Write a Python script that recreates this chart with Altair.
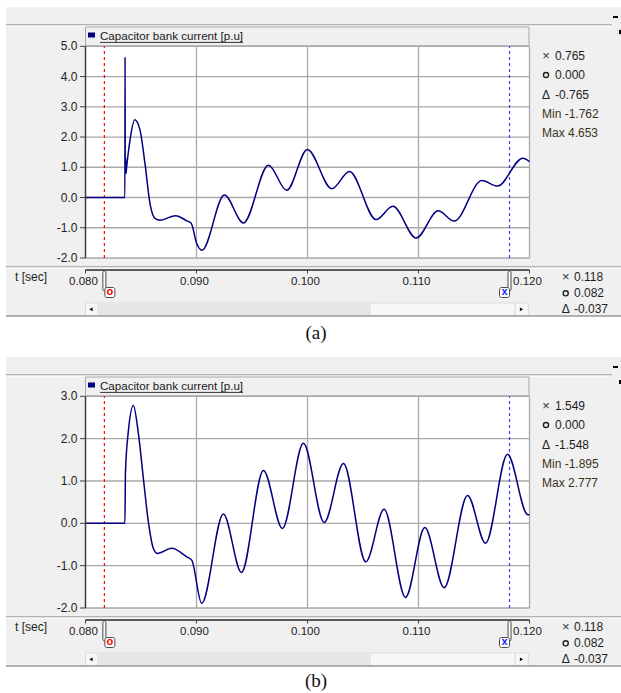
import altair as alt
import pandas as pd

# ---------------- values ----------------
series_name = "Capacitor bank current [p.u]"
x_title = "t [sec]"
panel_tags = ["(a)", "(b)"]

t_ticks = [0.080, 0.090, 0.100, 0.110, 0.120]
y_ticks_a = [-2.0, -1.0, 0.0, 1.0, 2.0, 3.0, 4.0, 5.0]
y_ticks_b = [-2.0, -1.0, 0.0, 1.0, 2.0, 3.0]

# cursor positions (red "o" and blue "x")
cursor_o = 0.0817
cursor_x = 0.1182

# panel (a) waveform
t_a = [0.08000, 0.08355, 0.083565, 0.08358, 0.08361, 0.08365, 0.08370, 0.08401, 0.08443,
       0.08491, 0.08536, 0.08581, 0.08626, 0.08672, 0.08813, 0.08912, 0.08951, 0.09002, 0.09050,
       0.09251, 0.09423, 0.09648, 0.09813, 0.09999, 0.10219, 0.10378, 0.10618, 0.10769,
       0.10979, 0.11177, 0.11321, 0.11571, 0.11712, 0.11940, 0.12000]
i_a = [0.0, 0.0, 4.65, 0.85, 1.33, 0.80, 0.98, 1.90, 2.57,
       2.23, 1.12, -0.20, -0.69, -0.75, -0.60, -0.77, -0.84, -1.52, -1.74,
       0.08, -0.84, 1.07, 0.24, 1.59, 0.29, 0.86, -0.73, -0.29,
       -1.34, -0.44, -0.78, 0.56, 0.38, 1.30, 1.19]

# panel (b) waveform
t_b = [0.08000, 0.08355, 0.08360, 0.08386, 0.08431, 0.08476, 0.08521, 0.08566, 0.08611,
       0.08647, 0.08777, 0.08912, 0.08957, 0.09047, 0.09242, 0.09405, 0.09603, 0.09774,
       0.09963, 0.10150, 0.10324, 0.10525, 0.10690, 0.10883, 0.11057, 0.11231, 0.11442,
       0.11604, 0.11802, 0.11980, 0.12000]
i_b = [0.0, 0.0, 1.20, 2.17, 2.78, 2.13, 1.07, 0.04, -0.59,
       -0.71, -0.59, -0.79, -0.87, -1.89, 0.22, -1.16, 1.25, -0.12,
       1.89, 0.02, 1.41, -0.91, 0.33, -1.75, -0.10, -1.52, 0.66,
       -0.47, 1.63, 0.21, 0.20]

info_a = ["0.765", "0.000", "-0.765", "Min -1.762", "Max 4.653"]
info_b = ["1.549", "0.000", "-1.548", "Min -1.895", "Max 2.777"]
time_info = ["0.118", "0.082", "-0.037"]

# ---------------- layout constants ----------------
W, H = 621, 693
X_RANGE = [85.5, 529.5]
Y_TOP, Y_BOT = 46.3, 258.0
FONT = "Liberation Sans"
BG = "#f0f0f0"
DUMMY = pd.DataFrame({"d": [0]})


def vrect(x, x2, y, y2, **kw):
    return alt.Chart(DUMMY).mark_rect(**kw).encode(
        x=alt.value(x), x2=alt.value(x2), y=alt.value(y), y2=alt.value(y2))


def hrule(x, x2, y, color, width=1.0):
    return alt.Chart(DUMMY).mark_rule(color=color, strokeWidth=width).encode(
        x=alt.value(x), x2=alt.value(x2), y=alt.value(y))


def label(x, y, s, size=12, color="#1e1e1e", align="left", font=FONT,
          weight="normal", baseline="middle"):
    return alt.Chart(DUMMY).mark_text(
        text=s, fontSize=size, color=color, align=align, font=font,
        fontWeight=weight, baseline=baseline).encode(x=alt.value(x), y=alt.value(y))


def glyph(x, y, shape, size, color, filled=False, sw=1.3):
    return alt.Chart(DUMMY).mark_point(
        shape=shape, size=size, color=color, filled=filled, strokeWidth=sw,
        opacity=1).encode(x=alt.value(x), y=alt.value(y))


def panel(off, t, cur, yticks, info, tag, tag_y):
    xs = alt.Scale(domain=[t_ticks[0], t_ticks[-1]], range=X_RANGE, nice=False, zero=False)
    ys = alt.Scale(domain=[yticks[0], yticks[-1]], range=[Y_BOT + off, Y_TOP + off],
                   nice=False, zero=False)

    wave = pd.DataFrame({"t": t, "i": cur})
    box = pd.DataFrame({"t0": [t_ticks[0]], "t1": [t_ticks[-1]],
                        "y0": [yticks[0]], "y1": [yticks[-1]]})
    xt = pd.DataFrame({"t": t_ticks, "lab": [f"{v:.3f}" for v in t_ticks],
                       "y0": yticks[0], "y1": yticks[-1]})
    yt = pd.DataFrame({"y": yticks, "lab": [f"{v:.1f}" for v in yticks],
                       "t0": t_ticks[0], "t1": t_ticks[-1]})
    cur_o = pd.DataFrame({"t": [cursor_o], "y0": [yticks[0]], "y1": [yticks[-1]]})
    cur_x = pd.DataFrame({"t": [cursor_x], "y0": [yticks[0]], "y1": [yticks[-1]]})

    X = lambda f: alt.X(f, type="quantitative", scale=xs, axis=None)
    Y = lambda f: alt.Y(f, type="quantitative", scale=ys, axis=None)

    layers = [
        # window background and chrome
        vrect(6, 621, 7 + off, 316 + off, fill=BG),
        hrule(6, 612, 24.8 + off, "#a0a0a0", 1.3),
        hrule(6, 612, 26.0 + off, "#ffffff", 1),
        vrect(85.5, 529, 27 + off, 45.8 + off, fill=BG, stroke="#a8a8a8", strokeWidth=1),
        vrect(88, 95, 32.5 + off, 37.5 + off, fill="#000080"),
        label(100, 40.3 + off, series_name, size=11.6, color="#1a1a1a", baseline="alphabetic"),
        hrule(100, 243, 42.4 + off, "#333333", 1),
        hrule(613, 618, 17 + off, "#000000", 2),
        vrect(619, 621, 30 + off, 34 + off, fill="#000000"),
        # plot area
        alt.Chart(box).mark_rect(fill="white").encode(
            x=X("t0"), x2="t1", y=Y("y0"), y2="y1"),
        alt.Chart(xt[1:]).mark_rule(color="#a9a9a9", strokeWidth=1.3).encode(
            x=X("t"), y=Y("y0"), y2="y1"),
        alt.Chart(yt).mark_rule(color="#a9a9a9", strokeWidth=1.3).encode(
            y=Y("y"), x=X("t0"), x2="t1"),
        alt.Chart(cur_o).mark_rule(color="#ff0000", strokeWidth=1.2, strokeDash=[3, 3]).encode(
            x=X("t"), y=Y("y0"), y2="y1"),
        alt.Chart(cur_x).mark_rule(color="#3a3aff", strokeWidth=1.2, strokeDash=[3, 3]).encode(
            x=X("t"), y=Y("y0"), y2="y1"),
        alt.Chart(wave).mark_line(interpolate="monotone", color="#000080", strokeWidth=1.5).encode(
            x=X("t:Q"), y=Y("i:Q")),
        # y axis (domain, ticks, labels) through the y scale
        alt.Chart(box).mark_rule(color="#3c3c3c", strokeWidth=1.5).encode(
            x=X("t0"), y=Y("y0"), y2="y1"),
        alt.Chart(yt).mark_rule(color="#404040", strokeWidth=1).encode(
            y=Y("y"), x=alt.value(80), x2=alt.value(85.5)),
        alt.Chart(yt).mark_text(align="right", baseline="middle", font=FONT, fontSize=12,
                                color="#222222").encode(
            y=Y("y"), x=alt.value(77.5), text="lab:N"),
        # time axis strip
        hrule(6, 621, 266.8 + off, "#a0a0a0", 1.3),
        hrule(6, 621, 268.0 + off, "#ffffff", 1),
        alt.Chart(box).mark_rule(color="#5c5c5c", strokeWidth=2).encode(
            x=X("t0"), x2="t1", y=alt.value(270 + off)),
        alt.Chart(xt).mark_rule(color="#404040", strokeWidth=1).encode(
            x=X("t"), y=alt.value(270 + off), y2=alt.value(273.5 + off)),
        alt.Chart(xt).mark_text(align="center", baseline="middle", font=FONT, fontSize=11.5,
                                color="#222222", dx=-2).encode(
            x=X("t"), y=alt.value(282 + off), text="lab:N"),
        label(15, 277 + off, x_title, size=12),
        # red "o" cursor flag
        alt.Chart(cur_o).mark_rect(fill="#fbfbfb", stroke="#4a4a4a", strokeWidth=1,
                                   cornerRadius=1.5, xOffset=-1.5, x2Offset=1.5).encode(
            x=X("t"), x2="t", y=alt.value(271 + off), y2=alt.value(291 + off)),
        alt.Chart(cur_o).mark_rect(fill="#ffffff", stroke="#4a4a4a", strokeWidth=1,
                                   cornerRadius=2, xOffset=0.5, x2Offset=10.5).encode(
            x=X("t"), x2="t", y=alt.value(287.5 + off), y2=alt.value(297.5 + off)),
        alt.Chart(cur_o).mark_text(text="o", color="#ff0000", fontWeight="bold", fontSize=11,
                                   font=FONT, dx=5.5, baseline="middle").encode(
            x=X("t"), y=alt.value(292 + off)),
        # blue "x" cursor flag
        alt.Chart(cur_x).mark_rect(fill="#fbfbfb", stroke="#4a4a4a", strokeWidth=1,
                                   cornerRadius=1.5, xOffset=-1.5, x2Offset=1.5).encode(
            x=X("t"), x2="t", y=alt.value(271 + off), y2=alt.value(291 + off)),
        alt.Chart(cur_x).mark_rect(fill="#ffffff", stroke="#4a4a4a", strokeWidth=1,
                                   cornerRadius=2, xOffset=-10, x2Offset=0).encode(
            x=X("t"), x2="t", y=alt.value(287.5 + off), y2=alt.value(297.5 + off)),
        alt.Chart(cur_x).mark_text(text="x", color="#1a1aff", fontWeight="bold", fontSize=11,
                                   font=FONT, dx=-5, baseline="middle").encode(
            x=X("t"), y=alt.value(292 + off)),
        # scrollbar
        vrect(85.5, 528.5, 303 + off, 315.5 + off, fill="#f7f7f7", stroke="#dddddd", strokeWidth=1),
        vrect(97, 371, 303.5 + off, 315 + off, fill="#e6e6e6"),
        vrect(514.5, 515.5, 303.5 + off, 315 + off, fill="#d6d6d6"),
        glyph(91, 309.3 + off, "triangle-left", 14, "#000000", filled=True),
        glyph(521.5, 309.3 + off, "triangle-right", 14, "#000000", filled=True),
        hrule(6, 621, 316 + off, "#9a9a9a", 1.5),
        # value read-outs (right of plot)
        label(546, 56 + off, "×", size=13, align="center", color="#333333"),
        glyph(546, 75 + off, "circle", 26, "#222222", sw=1.4),
        label(546, 94.5 + off, "Δ", size=12, align="center", color="#222222"),
        label(555, 56 + off, info[0]),
        label(555, 75 + off, info[1]),
        label(555, 94.5 + off, info[2]),
        label(542, 114.3 + off, info[3], color="#3d3320"),
        label(542, 133.3 + off, info[4], color="#3d3320"),
        # time read-outs
        label(565.7, 276.7 + off, "×", size=13, align="center", color="#333333"),
        glyph(565.7, 293.3 + off, "circle", 26, "#222222", sw=1.4),
        label(565.7, 309 + off, "Δ", size=12, align="center", color="#222222"),
        label(574, 276.7 + off, time_info[0]),
        label(574, 293.3 + off, time_info[1]),
        label(574, 309 + off, time_info[2]),
        # panel tag
        label(316, tag_y, tag, size=19, align="center", font="Liberation Serif", color="#111111"),
    ]
    return alt.layer(*layers)


pa = panel(0, t_a, i_a, y_ticks_a, info_a, panel_tags[0], 333)
pb = panel(350, t_b, i_b, y_ticks_b, info_b, panel_tags[1], 681)

chart = (
    alt.layer(pa, pb)
    .resolve_scale(x="independent", y="independent")
    .properties(width=W, height=H, padding=0,
                autosize=alt.AutoSizeParams(type="none"), background="white")
    .configure_view(strokeWidth=0)
)

chart.save("out.html", embed_options={"renderer": "svg", "actions": False})
